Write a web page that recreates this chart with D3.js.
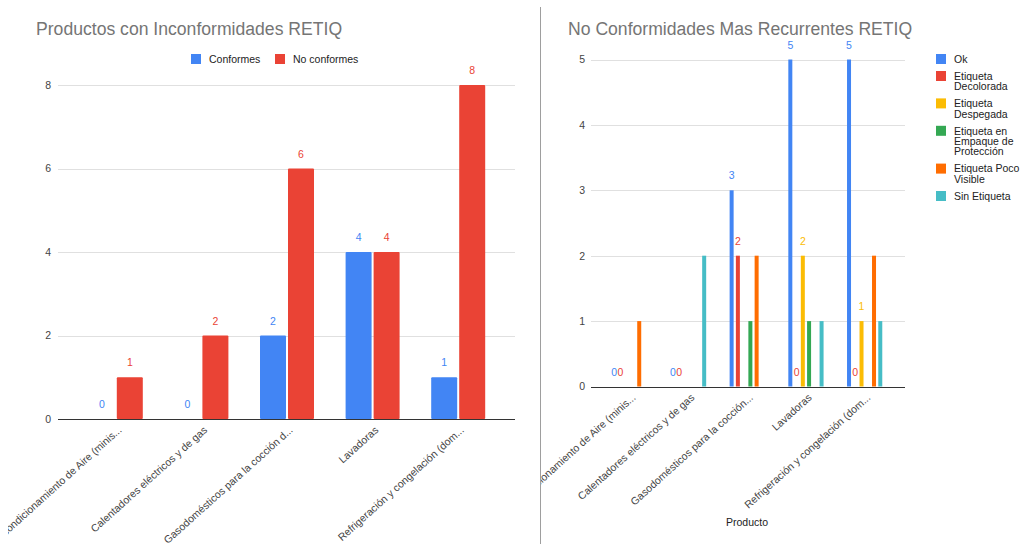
<!DOCTYPE html>
<html><head><meta charset="utf-8">
<script src="https://cdn.jsdelivr.net/npm/d3@7"></script>
<style>
html,body{margin:0;padding:0;background:#fff;}
svg{display:block;font-family:Arial,"Liberation Sans",sans-serif;}
</style></head>
<body>
<svg id="c" width="1023" height="544"></svg>
<script>
// ---------- data ----------
const categoriesLeft = ["Acondicionamiento de Aire (minis...","Calentadores eléctricos y de gas","Gasodomésticos para la cocción d...","Lavadoras","Refrigeración y congelación (dom..."];
const categoriesRight = ["Acondicionamiento de Aire (minis...","Calentadores eléctricos y de gas","Gasodomésticos para la cocción...","Lavadoras","Refrigeración y congelación (dom..."];
const seriesLeft = ["Conformes","No conformes"];
const conformes = [0,0,2,4,1];
const noConformes = [1,2,6,4,8];
const ticksLeft = [0,2,4,6,8];

const seriesRight = ["Ok","Etiqueta Decolorada","Etiqueta Despegada","Etiqueta en Empaque de Protección","Etiqueta Poco Visible","Sin Etiqueta"];
const ok          = [0,0,3,5,5];
const decolorada  = [0,0,2,0,0];
const despegada   = [null,null,null,2,1];
const empaque     = [null,null,1,1,null];
const pocoVisible = [1,null,2,null,2];
const sinEtiqueta = [null,2,null,1,1];
const ticksRight = [0,1,2,3,4,5];
const labeledRight = ["Ok","Etiqueta Decolorada","Etiqueta Despegada"];

const colorsLeft = ["#4285f4","#ea4335"];
const colorsRight = ["#4285f4","#ea4335","#fbbc04","#34a853","#ff6d01","#46bdc6"];

const titleLeft = "Productos con Inconformidades RETIQ";
const titleRight = "No Conformidades Mas Recurrentes RETIQ";
const xTitleRight = "Producto";

// ---------- drawing ----------
const svg = d3.select("#c");
const TITLE_COLOR = "#757575", TICK_COLOR = "#444", GRID = "#e0e0e0", AXIS = "#333";
const FS = 10.5;
const defs = svg.append("defs");

// divider
svg.append("line").attr("x1",540.5).attr("x2",540.5).attr("y1",7).attr("y2",544)
  .attr("stroke","#9e9e9e").attr("stroke-width",1);

function drawChart(o){
  const g = svg.append("g");
  const id="clip"+o.clip.x;
  defs.append("clipPath").attr("id",id).append("rect")
    .attr("x",o.clip.x).attr("y",0).attr("width",o.clip.w).attr("height",544);
  g.attr("clip-path",`url(#${id})`);
  const y = d3.scaleLinear().domain(o.yDomain).range(o.yRange);
  const x0 = d3.scaleBand().domain(d3.range(o.cats.length)).range(o.xRange).paddingInner(0).paddingOuter(0);
  const x1 = d3.scaleBand().domain(o.series).range([0,o.groupW]).paddingInner(o.innerPad);
  // gridlines
  g.selectAll(null).data(o.ticks.filter(t=>t!==0)).enter().append("line")
    .attr("x1",o.gridX[0]).attr("x2",o.gridX[1])
    .attr("y1",d=>Math.round(y(d))+0.5).attr("y2",d=>Math.round(y(d))+0.5)
    .attr("stroke",GRID).attr("stroke-width",1);
  // tick labels
  g.selectAll(null).data(o.ticks).enter().append("text")
    .attr("x",o.tickX).attr("y",d=>y(d)+3.8).attr("text-anchor","end")
    .attr("font-size",FS).attr("fill",TICK_COLOR).text(d=>d);
  // bars
  o.series.forEach((s,si)=>{
    const vals = o.values[si];
    const gx = i => x0(i)+x0.bandwidth()/2 - o.groupW/2 + x1(s);
    g.selectAll(null).data(vals.map((v,i)=>({v,i})).filter(d=>d.v!==null && d.v>0)).enter().append("rect")
      .attr("x",d=>gx(d.i)).attr("width",x1.bandwidth())
      .attr("y",d=>y(d.v)).attr("height",d=>y(0)-y(d.v))
      .attr("rx",o.rx).attr("fill",o.colors[si]);
    if(o.labeled.includes(s)){
      g.selectAll(null).data(vals.map((v,i)=>({v,i})).filter(d=>d.v!==null)).enter().append("text")
        .attr("x",d=>gx(d.i)+x1.bandwidth()/2).attr("y",d=>y(d.v)-11)
        .attr("text-anchor","middle").attr("font-size",FS).attr("fill",o.colors[si]).text(d=>d.v);
    }
  });
  // baseline
  g.append("line").attr("x1",o.gridX[0]).attr("x2",o.gridX[1])
    .attr("y1",Math.round(y(0))+0.5).attr("y2",Math.round(y(0))+0.5)
    .attr("stroke",AXIS).attr("stroke-width",1);
  // x labels
  g.selectAll(null).data(o.cats).enter().append("text")
    .attr("transform",(d,i)=>`translate(${x0(i)+x0.bandwidth()/2+6.5},${y(0)+12}) rotate(-42)`)
    .attr("text-anchor","end").attr("font-size",FS).attr("fill",TICK_COLOR).text(d=>d);
  // title
  svg.append("text").attr("x",o.titleX).attr("y",35).attr("font-size",17.6)
    .attr("fill",TITLE_COLOR).text(o.title);
  return {x0,y};
}

// Left chart
drawChart({
  cats:categoriesLeft, series:seriesLeft, values:[conformes,noConformes], colors:colorsLeft,
  yDomain:[0,8], yRange:[419,85], xRange:[73,501], gridX:[58,515], tickX:51,
  groupW:54, innerPad:2/28, ticks:ticksLeft, labeled:seriesLeft, rx:1,
  title:titleLeft, titleX:36, clip:{x:8,w:530}
});
// left legend
const legL = svg.append("g");
const legPos = [[191,209],[275,293]];
seriesLeft.forEach((s,i)=>{
  legL.append("rect").attr("x",legPos[i][0]).attr("y",54).attr("width",10).attr("height",10).attr("fill",colorsLeft[i]);
  legL.append("text").attr("x",legPos[i][1]).attr("y",62.7).attr("font-size",FS).attr("fill","#222").text(s);
});

// Right chart
drawChart({
  cats:categoriesRight, series:seriesRight,
  values:[ok,decolorada,despegada,empaque,pocoVisible,sinEtiqueta], colors:colorsRight,
  yDomain:[0,5], yRange:[386.5,59.5], xRange:[600.5,894], gridX:[591,905], tickX:585,
  groupW:35.25, innerPad:0.36, ticks:ticksRight, labeled:labeledRight, rx:0,
  title:titleRight, titleX:568, clip:{x:541,w:482}
});
svg.append("text").attr("x",747).attr("y",526).attr("text-anchor","middle")
  .attr("font-size",FS).attr("fill","#222").text(xTitleRight);

// right legend with word wrap
const legR = svg.append("g");
let ly = 59;
const LH = 10.4, GAP = 17, MAXW = 69;
seriesRight.forEach((s,i)=>{
  legR.append("rect").attr("x",936).attr("y",ly-5).attr("width",10).attr("height",10).attr("fill",colorsRight[i]);
  const t = legR.append("text").attr("font-size",FS).attr("fill","#222");
  const words = s.split(" ");
  let lines=[], cur="";
  const probe = legR.append("text").attr("font-size",FS);
  words.forEach(w=>{
    const test = cur? cur+" "+w : w;
    probe.text(test);
    if(probe.node().getComputedTextLength()>MAXW && cur){ lines.push(cur); cur=w; } else cur=test;
  });
  lines.push(cur); probe.remove();
  lines.forEach((ln,k)=>{
    t.append("tspan").attr("x",954).attr("y",ly+3.8+k*LH).text(ln);
  });
  ly += (lines.length-1)*LH + GAP;
});
</script>
</body></html>
